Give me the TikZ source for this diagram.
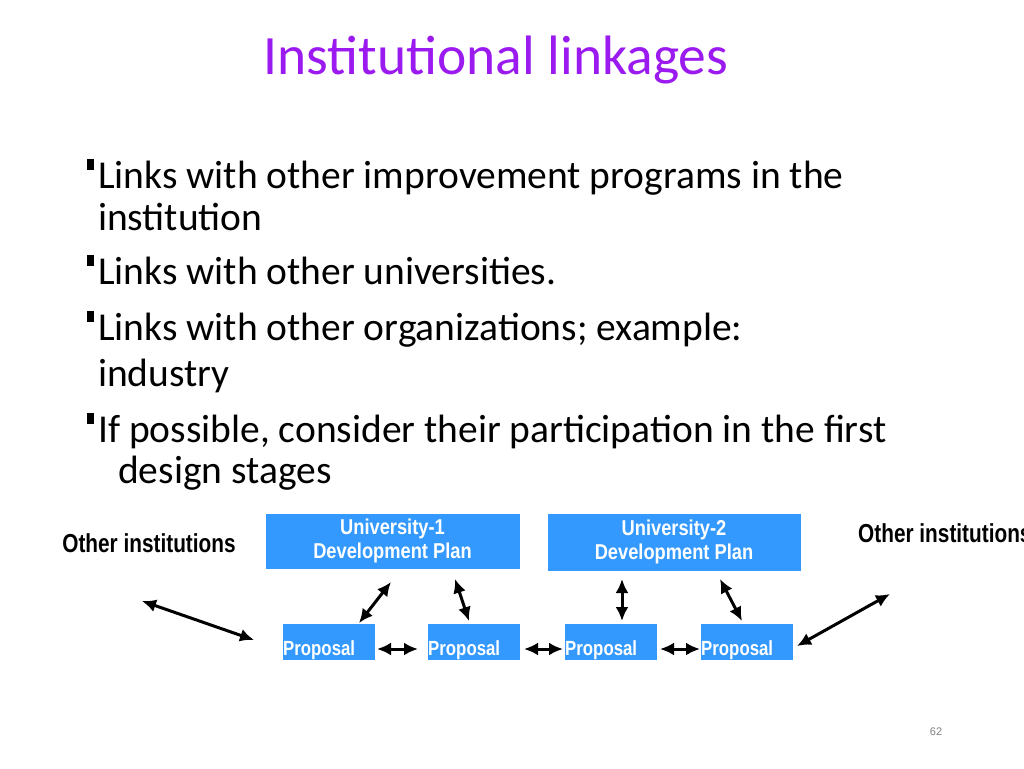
\documentclass[tikz,border=0pt]{standalone}
\usepackage{fontspec}
\usetikzlibrary{arrows.meta}
\setmainfont{Carlito}
\newfontfamily\arl{Liberation Sans}
\definecolor{ttl}{HTML}{9B1AF0}
\definecolor{bx}{HTML}{3399FF}
\begin{document}
\begin{tikzpicture}[x=1pt,y=-1pt,
 box/.style={fill=bx,draw=white,line width=0.5pt,inner sep=0pt},
 lab/.style={font=\arl\bfseries\fontsize{21.5}{26}\selectfont,text=white,align=center},
 blk/.style={font=\arl\bfseries\fontsize{26}{30}\selectfont},
 arr/.style={{Latex[length=14pt,width=13pt]}-{Latex[length=14pt,width=13pt]},line width=3pt},
 bul/.style={anchor=base west,inner sep=0pt,font=\fontsize{39.5}{46}\selectfont}]
\useasboundingbox (0,0) rectangle (1024,768);
\node[font=\fontsize{55.5}{64}\selectfont,text=ttl] (title) at (496,60) {Institutional linkages};
\foreach \y in {188,284,340,442}{\fill (87,\y-29) rectangle (94,\y-18);}
\node[bul] (b1) at (98,188) {Links with other improvement programs in the};
\node[bul] (b1b) at (98,230) {institution};
\node[bul] (b2) at (98,284) {Links with other universities.};
\node[bul] (b3) at (98,340) {Links with other organizations; example:};
\node[bul] (b3b) at (98,386) {industry};
\node[bul] (b4) at (98,442) {If possible, consider their participation in the first};
\node[bul] (b4b) at (118,483) {design stages};
\node[box,minimum width=255,minimum height=56] (u1) at (392.5,541) {};
\node[lab] at (u1) {\scalebox{0.85}[1]{University-1}\\[-2pt]\scalebox{0.85}[1]{Development Plan}};
\node[box,minimum width=254,minimum height=58] (u2) at (674,542) {};
\node[lab] at (u2) {\scalebox{0.85}[1]{University-2}\\[-2pt]\scalebox{0.85}[1]{Development Plan}};
\foreach \n/\x in {p1/282,p2/427,p3/564,p4/700}{
 \node[box,minimum width=93,minimum height=37,anchor=north west] (\n) at (\x,623) {};
 \node[font=\arl\bfseries\fontsize{20.5}{24}\selectfont,text=white,anchor=south west,inner sep=1pt] at (\n.south west) {\scalebox{0.82}[1]{Proposal}};}
\node[blk,anchor=center] (ol) at (149,543) {\scalebox{0.8}[1]{Other institutions}};
\node[blk,anchor=west,inner sep=0pt] (or) at (858,533) {\scalebox{0.8}[1]{Other institutions}};
\node[font=\arl\fontsize{11}{13}\selectfont,text=gray] (pg) at (936,732) {62};
\coordinate (a1) at (142,601); \coordinate (a2) at (254,640);
\draw[arr] (a1) -- (a2);
\draw[arr] (391,582) -- (359,623);
\draw[arr] (455,579) -- (469,621);
\draw[arr] (622,579) -- (622,621);
\draw[arr] (720,579) -- (742,621);
\draw[arr] (377,649) -- (418,649);
\draw[arr] (524,649) -- (563,649);
\draw[arr] (660,649) -- (700,649);
\draw[arr] (797,646) -- (890,594);
\end{tikzpicture}
\end{document}
